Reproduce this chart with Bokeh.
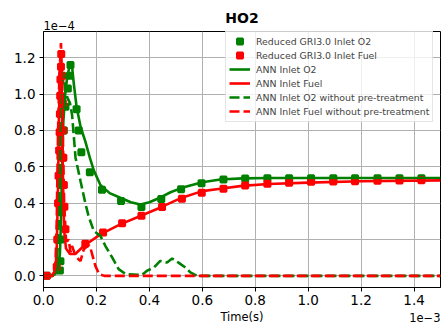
from bokeh.plotting import figure
from bokeh.models import Range1d, FixedTicker, NumeralTickFormatter, Legend, LegendItem, Title
from bokeh.embed import file_html
from bokeh.resources import INLINE

# time in units of 1e-3 s, HO2 in units of 1e-4
gri_o2_t = [0.012, 0.062, 0.064, 0.066, 0.068, 0.070, 0.073, 0.077, 0.083, 0.092, 0.099, 0.102,
            0.125, 0.133, 0.143, 0.175, 0.221, 0.293, 0.370, 0.445, 0.520, 0.597, 0.680, 0.762,
            0.846, 0.928, 1.011, 1.095, 1.177, 1.262, 1.345, 1.428]
gri_o2_v = [0.0, 0.03, 0.08, 0.20, 0.35, 0.50, 0.65, 0.80, 0.93, 1.03, 1.10, 1.16,
            0.917, 0.80, 0.68, 0.57, 0.473, 0.412, 0.379, 0.423, 0.477, 0.509, 0.530, 0.535,
            0.537, 0.537, 0.537, 0.537, 0.537, 0.537, 0.537, 0.537]

gri_fuel_t = [0.012, 0.050, 0.052, 0.055, 0.057, 0.059, 0.061, 0.062, 0.063, 0.064, 0.066, 0.067,
              0.071, 0.073, 0.074, 0.075, 0.077, 0.079, 0.083, 0.158, 0.225, 0.297, 0.370, 0.448,
              0.523, 0.598, 0.680, 0.762, 0.846, 0.928, 1.011, 1.095, 1.177, 1.262, 1.345, 1.428]
gri_fuel_v = [0.0, 0.05, 0.20, 0.40, 0.55, 0.69, 0.79, 0.89, 0.99, 1.08, 1.15, 1.22,
              1.10, 0.95, 0.80, 0.65, 0.50, 0.38, 0.256, 0.177, 0.238, 0.289, 0.330, 0.379,
              0.424, 0.457, 0.479, 0.497, 0.506, 0.512, 0.517, 0.519, 0.521, 0.523, 0.525, 0.526]

ann_o2_t = [0.0, 0.03, 0.045, 0.055, 0.062, 0.066, 0.070, 0.075, 0.082, 0.090, 0.100, 0.108,
            0.115, 0.125, 0.140, 0.158, 0.175, 0.190, 0.215, 0.250, 0.290, 0.330, 0.366, 0.400,
            0.440, 0.480, 0.523, 0.600, 0.668, 0.750, 0.850, 1.000, 1.500]
ann_o2_v = [0.0, 0.0, 0.01, 0.04, 0.12, 0.30, 0.60, 0.85, 1.00, 1.10, 1.16, 1.15,
            1.05, 0.93, 0.82, 0.74, 0.65, 0.58, 0.50, 0.455, 0.43, 0.405, 0.393, 0.405,
            0.43, 0.46, 0.484, 0.515, 0.530, 0.536, 0.538, 0.538, 0.538]

ann_fuel_t = [0.0, 0.03, 0.045, 0.050, 0.055, 0.058, 0.062, 0.065, 0.068, 0.071, 0.074, 0.078,
              0.085, 0.100, 0.120, 0.152, 0.215, 0.290, 0.366, 0.440, 0.523, 0.600, 0.668, 0.750,
              0.850, 1.000, 1.200, 1.500]
ann_fuel_v = [0.0, 0.0, 0.03, 0.15, 0.50, 0.85, 1.10, 1.20, 1.10, 0.80, 0.50, 0.25,
              0.15, 0.12, 0.12, 0.164, 0.228, 0.283, 0.329, 0.375, 0.430, 0.466, 0.479, 0.495,
              0.505, 0.513, 0.520, 0.525]

ann_o2_raw_t = [0.0, 0.035, 0.050, 0.058, 0.063, 0.068, 0.075, 0.082, 0.090, 0.100, 0.108, 0.121,
                0.140, 0.158, 0.170, 0.190, 0.215, 0.234, 0.260, 0.284, 0.310, 0.372, 0.390, 0.417,
                0.441, 0.467, 0.486, 0.510, 0.536, 0.555, 0.580, 1.500]
ann_o2_raw_v = [0.0, 0.0, 0.05, 0.30, 0.70, 1.00, 1.12, 1.05, 0.98, 0.95, 0.885, 0.65,
                0.52, 0.40, 0.33, 0.247, 0.22, 0.164, 0.10, 0.037, 0.01, 0.005, 0.027, 0.046,
                0.082, 0.073, 0.095, 0.073, 0.046, 0.019, 0.0, 0.0]

ann_fuel_raw_t = [0.0, 0.035, 0.045, 0.050, 0.055, 0.060, 0.066, 0.070, 0.074, 0.078, 0.085, 0.089,
                  0.095, 0.102, 0.108, 0.121, 0.133, 0.140, 0.152, 0.171, 0.177, 0.196, 0.210, 0.230,
                  1.500]
ann_fuel_raw_v = [0.0, 0.0, 0.05, 0.30, 0.80, 1.10, 1.28, 1.10, 0.70, 0.40, 0.20, 0.19,
                  0.20, 0.13, 0.164, 0.11, 0.09, 0.082, 0.146, 0.17, 0.155, 0.055, 0.01, 0.0,
                  0.0]

x_ticks = [0.0, 0.2, 0.4, 0.6, 0.8, 1.0, 1.2, 1.4]
y_ticks = [0.0, 0.2, 0.4, 0.6, 0.8, 1.0, 1.2]

p = figure(width=441, height=326, output_backend="svg", toolbar_location=None,
           x_range=Range1d(0, 1.5), y_range=Range1d(-0.064, 1.344),
           min_border_left=43, min_border_right=1, min_border_top=31, min_border_bottom=38)
p.title.text = ""
p.background_fill_color = "white"
p.border_fill_color = "white"
p.outline_line_color = "black"
p.outline_line_width = 1

for ax, ticks in ((p.xaxis[0], x_ticks), (p.yaxis[0], y_ticks)):
    ax.ticker = FixedTicker(ticks=ticks)
    ax.formatter = NumeralTickFormatter(format="0.0")
    ax.major_label_text_font = "DejaVu Sans"
    ax.major_label_text_font_size = "13.5px"
    ax.major_label_text_color = "black"
    ax.major_tick_out = 4
    ax.major_tick_in = 0
    ax.minor_tick_line_color = None
    ax.axis_line_color = "black"
    ax.major_tick_line_color = "black"
    ax.major_label_standoff = 4
p.xaxis.major_label_standoff = 3

p.xaxis.axis_label = "Time(s)"
p.xaxis.axis_label_text_font = "DejaVu Sans"
p.xaxis.axis_label_text_font_size = "11.5px"
p.xaxis.axis_label_text_font_style = "normal"
p.xaxis.axis_label_text_color = "black"
p.xaxis.axis_label_standoff = 2

p.xgrid.ticker = FixedTicker(ticks=x_ticks)
p.ygrid.ticker = FixedTicker(ticks=y_ticks)
p.grid.grid_line_color = "#b0b0b0"
p.grid.grid_line_width = 1

r1 = p.scatter(gri_o2_t, gri_o2_v, marker="square", size=5.6, line_width=2.4, color="green")
r2 = p.scatter(gri_fuel_t, gri_fuel_v, marker="square", size=5.6, line_width=2.4, color="red")
r3 = p.line(ann_o2_t, ann_o2_v, line_color="green", line_width=2.6)
r4 = p.line(ann_fuel_t, ann_fuel_v, line_color="red", line_width=2.6)
r5 = p.line(ann_o2_raw_t, ann_o2_raw_v, line_color="green", line_width=2.6, line_dash="10 4")
r6 = p.line(ann_fuel_raw_t, ann_fuel_raw_v, line_color="red", line_width=2.6, line_dash="10 4")

legend = Legend(items=[
    LegendItem(label="Reduced GRI3.0 Inlet O2", renderers=[r1]),
    LegendItem(label="Reduced GRI3.0 Inlet Fuel", renderers=[r2]),
    LegendItem(label="ANN Inlet O2", renderers=[r3]),
    LegendItem(label="ANN Inlet Fuel", renderers=[r4]),
    LegendItem(label="ANN Inlet O2 without pre-treatment", renderers=[r5]),
    LegendItem(label="ANN Inlet Fuel without pre-treatment", renderers=[r6]),
], location=(182, 165))
legend.label_text_font = "DejaVu Sans"
legend.label_text_font_size = "9.4px"
legend.glyph_width = 21
legend.glyph_height = 14
legend.label_height = 14
legend.spacing = 0
legend.padding = 3
legend.margin = 0
legend.label_standoff = 6
legend.border_line_color = "#cccccc"
legend.border_line_width = 1
legend.background_fill_alpha = 0.8
p.add_layout(legend, "center")

p.add_layout(Title(text="1e\u22124", align="left", standoff=4,
                   text_font="DejaVu Sans", text_font_size="11.5px",
                   text_font_style="normal", text_color="black"), "above")
p.add_layout(Title(text="HO2", align="center", standoff=-18,
                   text_font="DejaVu Sans", text_font_size="14px",
                   text_font_style="bold", text_color="black"), "above")
p.add_layout(Title(text="1e\u22123", align="right", standoff=-27, vertical_align="top",
                   text_font="DejaVu Sans", text_font_size="11.5px",
                   text_font_style="normal", text_color="black"), "below")

open("out.html", "w").write(file_html(p, INLINE))
